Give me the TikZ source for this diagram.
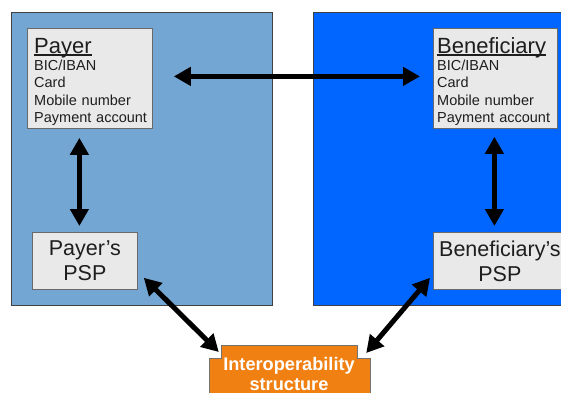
\documentclass[tikz,border=0pt]{standalone}
\usepackage{fontspec}
\setmainfont{Liberation Sans}
\usetikzlibrary{arrows.meta}

\definecolor{payerblue}{RGB}{115,166,210}
\definecolor{benefblue}{RGB}{0,102,255}
\definecolor{boxgray}{RGB}{233,233,233}
\definecolor{boxline}{RGB}{105,105,105}
\definecolor{interorange}{RGB}{240,128,18}
\definecolor{textgray}{RGB}{30,30,30}

% underline that sits just under the baseline
\newcommand\ulword[1]{\setbox0\hbox{#1}\rlap{\rule[-2.6pt]{\wd0}{1.2pt}}\box0}

\begin{document}
\begin{tikzpicture}[x=1pt,y=-1pt,
  panel/.style={draw=black!75, line width=0.8pt, anchor=north west, inner sep=0pt},
  infobox/.style={draw=boxline, fill=boxgray, line width=0.8pt, anchor=north west, inner sep=0pt},
  boxtext/.style={anchor=base west, inner sep=0pt, text width=125pt, align=left,
    text=textgray, font=\fontsize{14.5}{17.4}\selectfont},
  psptext/.style={align=center, text=textgray, font=\fontsize{21.5}{25}\selectfont},
  link/.style={line width=5pt,
    {Triangle[length=17pt,width=18pt]}-{Triangle[length=17pt,width=18pt]}}
]
\useasboundingbox (0,0) rectangle (561,392);
\clip (0,0) rectangle (561,392);

% the two sides
\node[panel, fill=payerblue, minimum width=261pt, minimum height=293pt] (payerside) at (11,12) {};
\node[panel, fill=benefblue, minimum width=262pt, minimum height=293pt] (benefside) at (313,12) {};

% identifier boxes
\node[infobox, minimum width=125pt, minimum height=100pt] (payer) at (27,28) {};
\node[boxtext] (payertxt) at (34,53)
  {{\fontsize{22}{22}\selectfont\ulword{Payer}}\\BIC/IBAN\\Card\\Mobile number\\Payment account};

\node[infobox, minimum width=124pt, minimum height=100pt] (benef) at (433,28) {};
\node[boxtext] (beneftxt) at (437,53)
  {{\fontsize{22}{22}\selectfont\ulword{Beneficiary}}\\BIC/IBAN\\Card\\Mobile number\\Payment account};

% service providers
\node[infobox, psptext, minimum width=105pt, minimum height=57pt] (ppsp) at (32,232) {Payer’s\\PSP};
\node[infobox, psptext, minimum width=133pt, minimum height=57pt] (bpsp) at (433,232) {Beneficiary’s\\PSP};

% interoperability block with side tabs
\fill[interorange, draw=black!55, line width=0.6pt]
  (221,345) -- (357,345) -- (357,358) -- (370,358) -- (370,410)
  -- (209,410) -- (209,358) -- (221,358) -- cycle;
\node[anchor=north, inner sep=0pt, minimum width=136pt, minimum height=58pt,
  align=center, text=white, font=\bfseries\fontsize{18.2}{20}\selectfont]
  (interop) at (289,345) {Interoperability\\structure};

% links
\draw[link] ([xshift=21pt,yshift=2pt]payer.east) -- ([xshift=-13pt,yshift=2pt]benef.west);
\draw[link] ([xshift=-10.5pt,yshift=-9pt]payer.south) -- ([xshift=-5.5pt,yshift=6pt]ppsp.north);
\draw[link] ([xshift=-1pt,yshift=-8pt]benef.south) -- ([xshift=-5.5pt,yshift=6pt]bpsp.north);
\draw[link] ([xshift=6pt,yshift=12pt]ppsp.south east) -- ([xshift=-2pt,yshift=-7pt]interop.north west);
\draw[link] ([xshift=-3pt,yshift=12pt]bpsp.south west) -- ([xshift=9pt,yshift=-8pt]interop.north east);
\end{tikzpicture}
\end{document}
